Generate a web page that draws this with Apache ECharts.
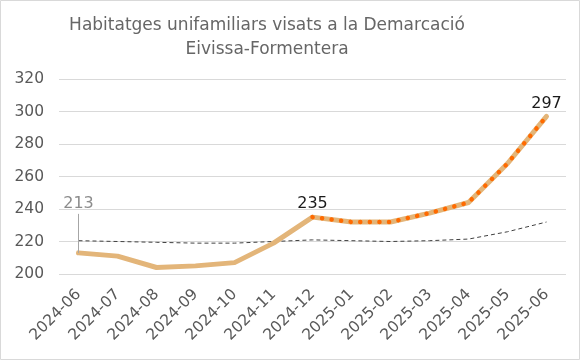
<!DOCTYPE html>
<html><head><meta charset="utf-8">
<script src="https://cdn.jsdelivr.net/npm/echarts@6/dist/echarts.min.js"></script>
<style>html,body{margin:0;padding:0;background:#fff}#c{width:580px;height:360px}</style>
</head><body><div id="c"></div>
<script>
const categories = ['2024-06','2024-07','2024-08','2024-09','2024-10','2024-11','2024-12','2025-01','2025-02','2025-03','2025-04','2025-05','2025-06'];
const visats = [213, 211, 204, 205, 207, 219, 235, 232, 232, 237.5, 244, 268, 297];
const forecast = [null, null, null, null, null, null, 235, 232, 232, 237.5, 244, 268, 297];
const trend = [220.5, 220, 219.5, 219, 219, 220, 221, 220.5, 220, 220.5, 221.5, 226, 232];
const yTicks = [200, 320, 20];
const labelledPoints = {0: '213', 6: '235', 12: '297'};

const FONT = 'DejaVu Sans';
const chart = echarts.init(document.getElementById('c'), null, {renderer: 'canvas'});
chart.setOption({
  animation: false,
  textStyle: {fontFamily: FONT},
  title: {
    text: 'Habitatges unifamiliars visats a la Demarcació\nEivissa-Formentera',
    left: 262, top: 9, textAlign: 'center',
    textStyle: {fontFamily: FONT, fontSize: 17, fontWeight: 'normal', color: '#666666', lineHeight: 24}
  },
  graphic: [{type: 'rect', shape: {x: 0.5, y: 0.5, width: 579, height: 359}, style: {fill: 'none', stroke: '#d9d9d9', lineWidth: 1}, silent: true}],
  grid: {left: 59, right: 14, top: 79, bottom: 86},
  xAxis: {
    type: 'category', data: categories, boundaryGap: true,
    axisLine: {show: false}, axisTick: {show: false},
    axisLabel: {rotate: 45, fontSize: 15.5, color: '#595959', fontFamily: FONT, margin: 18, interval: 0}
  },
  yAxis: {
    type: 'value', min: yTicks[0], max: yTicks[1], interval: yTicks[2],
    axisLine: {show: false}, axisTick: {show: false},
    axisLabel: {fontSize: 15.5, color: '#595959', fontFamily: FONT, margin: 15},
    splitLine: {lineStyle: {color: '#d9d9d9', width: 1}}
  },
  series: [
    {
      type: 'line', data: trend, symbol: 'none', z: 2,
      lineStyle: {color: '#404040', width: 1, type: [4, 3]}
    },
    {
      type: 'line', data: visats, symbol: 'none', z: 3,
      lineStyle: {color: '#e3b579', width: 5, cap: 'round', join: 'round'},
      markPoint: {
        symbol: 'circle', symbolSize: 0, silent: true, animation: false,
        label: {show: true, position: 'top', distance: 5, fontSize: 16, color: '#1a1a1a', fontFamily: FONT, formatter: p => p.name},
        data: [
          {name: labelledPoints[6], coord: [categories[6], visats[6]]},
          {name: labelledPoints[12], coord: [categories[12], visats[12]]}
        ]
      },
      markLine: {
        silent: true, symbol: 'none', animation: false,
        lineStyle: {color: '#a6a6a6', width: 1, type: 'solid'},
        label: {show: true, position: 'end', formatter: labelledPoints[0], fontSize: 16, color: '#8c8c8c', fontFamily: FONT, distance: 2},
        data: [[{coord: [categories[0], visats[0]]}, {coord: [categories[0], 237]}]]
      }
    },
    {
      type: 'line', data: forecast, symbol: 'none', z: 4,
      lineStyle: {color: '#ff6a00', width: 4.5, type: [0.1, 9.5], cap: 'round', join: 'round'}
    }
  ]
});
</script></body></html>
